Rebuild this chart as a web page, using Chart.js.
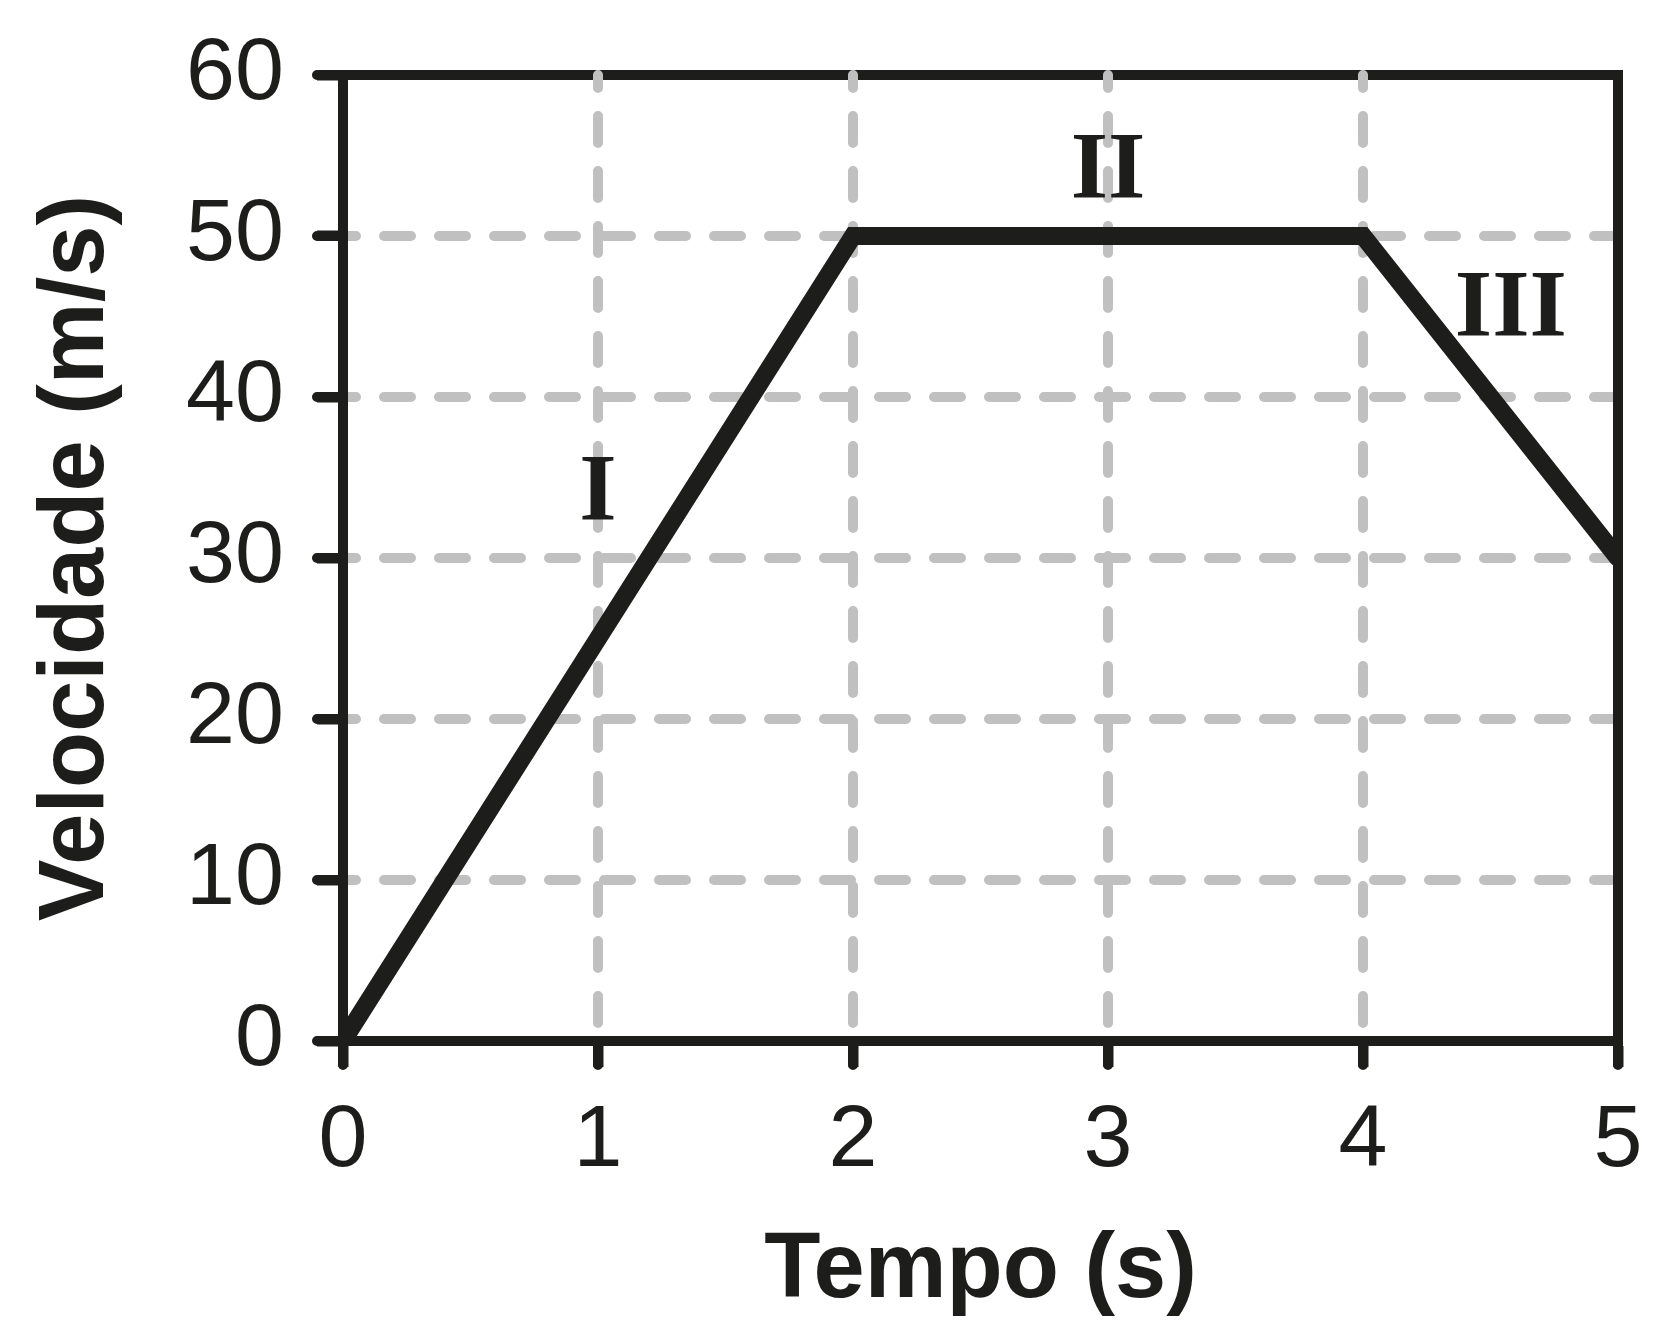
<!DOCTYPE html>
<html>
<head>
<meta charset="utf-8">
<script src="https://cdn.jsdelivr.net/npm/chart.js@4.4.1/dist/chart.umd.min.js"></script>
<style>
  html, body { margin: 0; padding: 0; background: #ffffff; }
  #wrap { width: 1660px; height: 1334px; }
</style>
</head>
<body>
<div id="wrap"><canvas id="c" width="1660" height="1334"></canvas></div>
<script>
// ---- data ----
const tempo = [0, 2, 4, 5];
const velocidade = [0, 50, 50, 30];
const xTicks = [0, 1, 2, 3, 4, 5];
const yTicks = [0, 10, 20, 30, 40, 50, 60];
const gridXValues = [1, 2, 3, 4];
const gridYValues = [10, 20, 30, 40, 50];
const phaseLabels = ['I', 'II', 'III'];
const phaseX = [1.0, 3.0, 4.58];
const phaseY = [33.9, 53.9, 45.3];
const xTitle = 'Tempo (s)';
const yTitle = 'Velocidade (m/s)';

const INK = '#1d1d1b';
const GRID = '#c0c0c0';

function noAutoPad(s) {
  s.paddingTop = 0; s.paddingBottom = 0; s.paddingLeft = 0; s.paddingRight = 0;
}

const refGrid = {
  id: 'refGrid',
  beforeDatasetsDraw(chart) {
    const { ctx, chartArea: a, scales: { x, y } } = chart;
    const yTop = y.getPixelForValue(yTicks[yTicks.length - 1]);
    const xRight = x.getPixelForValue(xTicks[xTicks.length - 1]);
    ctx.save();
    ctx.lineCap = 'round';
    ctx.strokeStyle = INK;
    ctx.lineWidth = 10;
    ctx.beginPath();
    ctx.moveTo(a.left - 26, yTop);
    ctx.lineTo(xRight, yTop);
    ctx.lineTo(xRight, a.bottom + 24);
    ctx.stroke();
    ctx.beginPath();
    yTicks.slice(0, -1).forEach(v => {
      const py = y.getPixelForValue(v);
      ctx.moveTo(a.left - 26, py); ctx.lineTo(a.left, py);
    });
    xTicks.slice(0, -1).forEach(v => {
      const px = x.getPixelForValue(v);
      ctx.moveTo(px, a.bottom); ctx.lineTo(px, a.bottom + 24);
    });
    ctx.stroke();

    ctx.beginPath();
    ctx.rect(a.left + 5, 0, xRight - 5 - (a.left + 5), a.bottom - 5);
    ctx.clip();
    ctx.strokeStyle = GRID;
    ctx.lineWidth = 10;
    ctx.setLineDash([27, 28]);
    ctx.lineDashOffset = 14;
    gridYValues.forEach(v => {
      const py = y.getPixelForValue(v);
      ctx.beginPath(); ctx.moveTo(a.left, py); ctx.lineTo(xRight, py); ctx.stroke();
    });
    ctx.restore();
    ctx.save();
    ctx.beginPath();
    ctx.rect(a.left + 5, 0, xRight - a.left, a.bottom - 5);
    ctx.clip();
    ctx.strokeStyle = GRID;
    ctx.lineWidth = 10;
    ctx.lineCap = 'round';
    ctx.setLineDash([27, 28]);
    ctx.lineDashOffset = 14;
    gridXValues.forEach(v => {
      const px = x.getPixelForValue(v);
      ctx.beginPath(); ctx.moveTo(px, a.top); ctx.lineTo(px, a.bottom); ctx.stroke();
    });
    ctx.restore();
  },
  afterDatasetsDraw(chart) {
    const { ctx, scales: { x, y } } = chart;
    ctx.save();
    ctx.fillStyle = INK;
    ctx.font = 'bold 96px "Liberation Serif"';
    ctx.textAlign = 'center';
    ctx.textBaseline = 'middle';
    phaseLabels.forEach((t, i) => {
      ctx.fillText(t, x.getPixelForValue(phaseX[i]), y.getPixelForValue(phaseY[i]));
    });
    ctx.restore();
  }
};

new Chart(document.getElementById('c'), {
  type: 'line',
  data: {
    datasets: [{
      data: tempo.map((t, i) => ({ x: t, y: velocidade[i] })),
      borderColor: INK,
      borderWidth: 18,
      borderJoinStyle: 'miter',
      borderCapStyle: 'round',
      pointRadius: 0,
      tension: 0,
      fill: false
    }]
  },
  options: {
    responsive: false,
    animation: false,
    events: [],
    layout: { autoPadding: false, padding: { left: 0, top: 75, right: 42, bottom: 0 } },
    plugins: { legend: { display: false }, tooltip: { enabled: false } },
    scales: {
      x: {
        type: 'linear',
        min: xTicks[0],
        max: xTicks[xTicks.length - 1],
        afterFit(s) { s.height = 293; noAutoPad(s); },
        afterBuildTicks(s) { s.ticks = xTicks.map(v => ({ value: v })); },
        grid: { display: true, drawOnChartArea: false, drawTicks: true, tickLength: 26, tickWidth: 10, tickColor: INK, color: INK },
        border: { display: true, color: INK, width: 10 },
        ticks: { color: INK, font: { family: '"Liberation Sans", Arial, sans-serif', size: 88 }, padding: 22, maxRotation: 0, autoSkip: false },
        title: { display: true, text: xTitle, color: INK, font: { family: '"Liberation Sans", Arial, sans-serif', size: 92, weight: 'bold' }, padding: { top: 0, bottom: 7 } }
      },
      y: {
        type: 'linear',
        min: yTicks[0],
        max: yTicks[yTicks.length - 1],
        afterFit(s) { s.width = 343; noAutoPad(s); },
        afterBuildTicks(s) { s.ticks = yTicks.map(v => ({ value: v })); },
        grid: { display: true, drawOnChartArea: false, drawTicks: true, tickLength: 26, tickWidth: 10, tickColor: INK, color: INK },
        border: { display: true, color: INK, width: 10 },
        ticks: { color: INK, font: { family: '"Liberation Sans", Arial, sans-serif', size: 88 }, padding: 33, autoSkip: false },
        title: { display: true, text: yTitle, color: INK, font: { family: '"Liberation Sans", Arial, sans-serif', size: 92, weight: 'bold' }, padding: { top: 22, bottom: 0 } }
      }
    }
  },
  plugins: [refGrid]
});
</script>
</body>
</html>
